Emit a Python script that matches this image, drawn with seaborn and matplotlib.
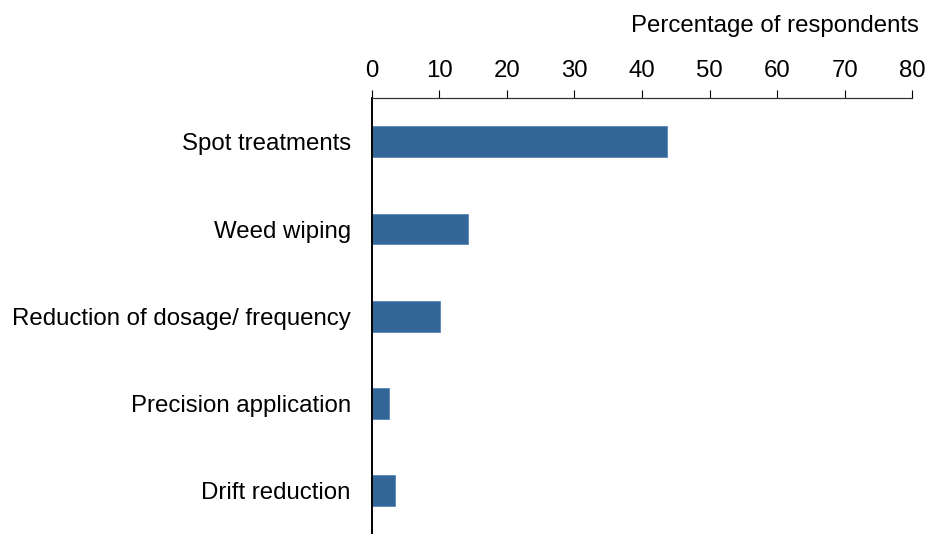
import matplotlib
matplotlib.use("Agg")
import matplotlib.pyplot as plt
import seaborn as sns
import pandas as pd

categories = ["Spot treatments", "Weed wiping", "Reduction of dosage/ frequency",
              "Precision application", "Drift reduction"]
values = [43.7, 14.3, 10.1, 2.5, 3.4]
xticks = [0, 10, 20, 30, 40, 50, 60, 70, 80]
xlabel = "Percentage of respondents"

df = pd.DataFrame({"category": categories, "value": values})

sns.set_theme(style="white")
plt.rcParams["font.family"] = ["Liberation Sans", "DejaVu Sans"]

fs = 17.3
fig = plt.figure(figsize=(9.29, 5.34), dpi=100)
ax = fig.add_axes([0.4001, 0.0, 0.5819, 0.8159])

sns.barplot(data=df, x="value", y="category", orient="h", color="#336699",
            width=0.355, saturation=1, edgecolor="#5b85b3", linewidth=0.6, ax=ax)

ax.set_xlim(0, 80)
ax.set_ylim(4.5, -0.5)
ax.set_xticks(xticks)
ax.set_xticklabels([str(t) for t in xticks])
ax.xaxis.tick_top()
ax.xaxis.set_label_position("top")
ax.set_xlabel(xlabel, fontsize=fs, ha="right", color="black")
ax.xaxis.set_label_coords(1.013, 1.153)
ax.set_ylabel("")

ax.tick_params(axis="x", which="both", top=True, bottom=False, direction="out",
               length=5.5, width=0.8, colors="black", labelsize=fs, pad=6)
ax.tick_params(axis="y", left=False, length=0, labelsize=fs, pad=15, colors="black")

for s in ["right", "bottom"]:
    ax.spines[s].set_visible(False)
ax.spines["top"].set_color("#333333")
ax.spines["top"].set_linewidth(0.9)
ax.spines["left"].set_color("black")
ax.spines["left"].set_linewidth(1.4)

fig.savefig("out.png", dpi=100)
